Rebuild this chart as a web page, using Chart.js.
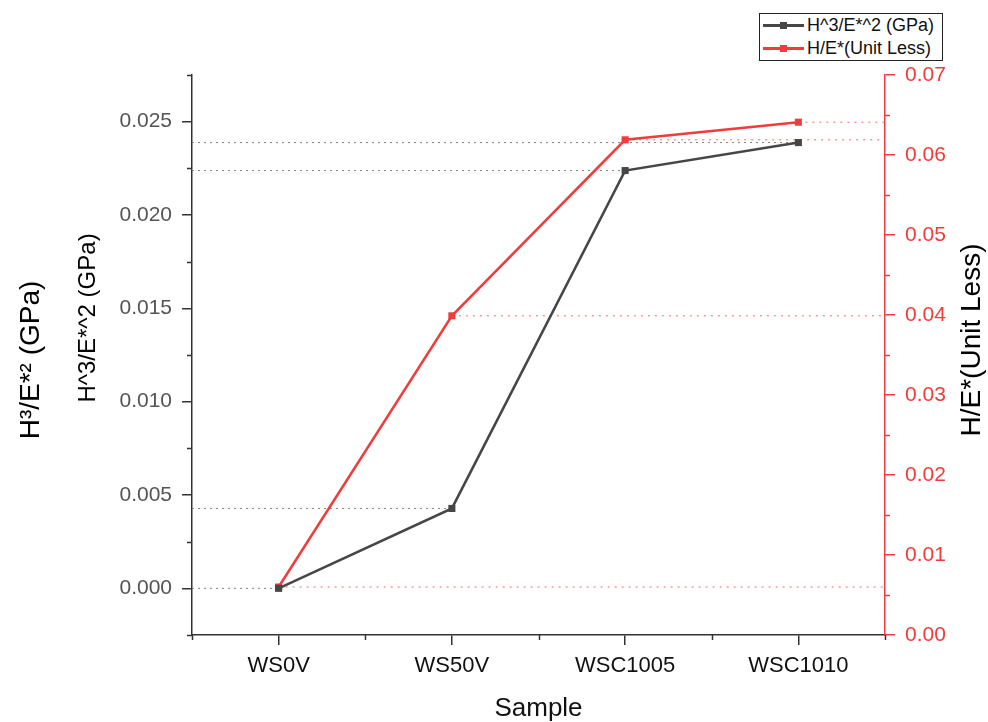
<!DOCTYPE html>
<html>
<head>
<meta charset="utf-8">
<script src="https://cdn.jsdelivr.net/npm/chart.js@4.4.0/dist/chart.umd.min.js"></script>
<style>
  body { margin: 0; background: #fff; font-family: "Liberation Sans", Arial, sans-serif; }
  #wrap { position: relative; width: 988px; height: 722px; }
  #legend { position: absolute; left: 759px; top: 13px; width: 184px; height: 48px; border: 1px solid #222;
            box-sizing: border-box; background: #fff; font-size: 18px; padding-top: 0px; }
  .row { position: relative; height: 23px; line-height: 23px; padding-left: 47px; color: #111; white-space: nowrap; }
  .row .ln { position: absolute; left: 3px; top: 10px; width: 41px; height: 3px; }
  .row .sq { position: absolute; left: 20px; top: 8px; width: 7px; height: 7px; }
</style>
</head>
<body>
<div id="wrap">
  <canvas id="chart"></canvas>
  <div id="legend"></div>
</div>
<script>
// data
const samples = ["WS0V", "WS50V", "WSC1005", "WSC1010"];
const h3e2 = [0.0000, 0.00428, 0.02238, 0.02388];   // H^3/E*^2 (GPa)
const he = [0.0060, 0.0399, 0.0619, 0.0641];         // H/E* (unit less)

const leftTicks = [0, 0.005, 0.010, 0.015, 0.020, 0.025];
const leftMinor = [-0.0025, 0.0025, 0.0075, 0.0125, 0.0175, 0.0225, 0.0275];
const rightTicks = [0, 0.01, 0.02, 0.03, 0.04, 0.05, 0.06, 0.07];
const rightMinor = [0.005, 0.015, 0.025, 0.035, 0.045, 0.055, 0.065];
const xMinor = [-0.5, 0.5, 1.5, 2.5, 3.5];

const BLACK = "#464646";
const RED = "#f03c3c";

Chart.defaults.font.family = '"Liberation Sans", Arial, sans-serif';

// legend box (top right)
const legendItems = [
    { label: "H^3/E*^2 (GPa)", color: BLACK },
    { label: "H/E*(Unit Less)", color: RED }
];
const legend = document.getElementById("legend");
legendItems.forEach(it => {
    const row = document.createElement("div");
    row.className = "row";
    row.innerHTML = `<span class="ln" style="background:${it.color}"></span><span class="sq" style="background:${it.color}"></span>${it.label}`;
    legend.appendChild(row);
});

// dotted drop lines, minor ticks and the rotated axis titles
const extras = {
    id: "extras",
    beforeDatasetsDraw(chart) {
        const { ctx, chartArea, scales } = chart;
        ctx.save();
        ctx.lineWidth = 1;
        // black: from left axis to the point
        ctx.strokeStyle = "#808080";
        ctx.setLineDash([2, 4]);
        h3e2.forEach((v, i) => {
            const y = scales.y.getPixelForValue(v);
            ctx.beginPath();
            ctx.moveTo(chartArea.left, y);
            ctx.lineTo(scales.x.getPixelForValue(i), y);
            ctx.stroke();
        });
        // red: from the point to right axis
        ctx.strokeStyle = "#f36a6a";
        ctx.setLineDash([2, 5]);
        he.forEach((v, i) => {
            const y = scales.y1.getPixelForValue(v);
            ctx.beginPath();
            ctx.moveTo(scales.x.getPixelForValue(i), y);
            ctx.lineTo(chartArea.right, y);
            ctx.stroke();
        });
        ctx.restore();
    },
    afterDraw(chart) {
        const { ctx, chartArea, scales } = chart;
        ctx.save();
        ctx.lineWidth = 1.5;
        ctx.strokeStyle = "#333";
        leftMinor.forEach(v => {
            const y = Math.round(scales.y.getPixelForValue(v)) + 0.5;
            ctx.beginPath(); ctx.moveTo(chartArea.left, y); ctx.lineTo(chartArea.left - 5, y); ctx.stroke();
        });
        xMinor.forEach(v => {
            const x = Math.round(scales.x.getPixelForValue(v)) + 0.5;
            ctx.beginPath(); ctx.moveTo(x, chartArea.bottom); ctx.lineTo(x, chartArea.bottom + 5); ctx.stroke();
        });
        ctx.strokeStyle = RED;
        rightMinor.forEach(v => {
            const y = Math.round(scales.y1.getPixelForValue(v)) + 0.5;
            ctx.beginPath(); ctx.moveTo(chartArea.right, y); ctx.lineTo(chartArea.right + 5, y); ctx.stroke();
        });

        ctx.fillStyle = "#000";
        ctx.textAlign = "center";
        ctx.textBaseline = "middle";
        const vText = (txt, x, y, size) => {
            ctx.save();
            ctx.translate(x, y);
            ctx.rotate(-Math.PI / 2);
            ctx.font = `${size}px "Liberation Sans", Arial, sans-serif`;
            ctx.fillText(txt, 0, 0);
            ctx.restore();
        };
        vText("H\u00b3/E*\u00b2 (GPa)", 31, 360, 28);
        vText("H^3/E*^2 (GPa)", 88, 318, 24);
        vText("H/E*(Unit Less)", 972, 340, 28);
        ctx.restore();
    }
};

new Chart(document.getElementById("chart"), {
    type: "line",
    data: {
        labels: samples,
        datasets: [
            {
                label: "H/E*(Unit Less)",
                data: he,
                yAxisID: "y1",
                borderColor: RED,
                backgroundColor: RED,
                borderWidth: 2.5,
                pointStyle: "rect",
                pointRadius: 5,
                pointBorderWidth: 0,
                tension: 0,
                order: 2
            },
            {
                label: "H^3/E*^2 (GPa)",
                data: h3e2,
                yAxisID: "y",
                borderColor: BLACK,
                backgroundColor: BLACK,
                borderWidth: 2.5,
                pointStyle: "rect",
                pointRadius: 5,
                pointBorderWidth: 0,
                tension: 0,
                order: 1
            }
        ]
    },
    options: {
        responsive: true,
        maintainAspectRatio: false,
        animation: false,
        layout: { padding: { top: 75, left: 0, right: 0, bottom: 0 } },
        plugins: { legend: { display: false }, tooltip: { enabled: false } },
        scales: {
            x: {
                type: "category",
                offset: true,
                grid: { display: true, drawOnChartArea: false, offset: false, tickLength: 10, color: "#333", lineWidth: 1.5 },
                border: { color: "#333", width: 1.5 },
                ticks: { color: "#111", font: { size: 22 }, padding: 8 },
                title: { display: true, text: "Sample", color: "#111", font: { size: 26, lineHeight: 1.0 }, padding: 0 },
                afterFit: s => { s.height = 87; }
            },
            y: {
                position: "left",
                min: -0.0025,
                max: 0.0275,
                afterBuildTicks: s => { s.ticks = leftTicks.map(v => ({ value: v })); },
                grid: { display: true, drawOnChartArea: false, tickLength: 10, color: "#333", lineWidth: 1.5 },
                border: { color: "#333", width: 1.5 },
                ticks: { color: "#555", font: { size: 21 }, padding: 10, callback: v => Number(v).toFixed(3) },
                afterFit: s => { s.width = 192; }
            },
            y1: {
                position: "right",
                min: 0,
                max: 0.07,
                afterBuildTicks: s => { s.ticks = rightTicks.map(v => ({ value: v })); },
                grid: { display: true, drawOnChartArea: false, tickLength: 10, color: RED, lineWidth: 1.5 },
                border: { color: RED, width: 1.5 },
                ticks: { color: RED, font: { size: 21 }, padding: 10, callback: v => Number(v).toFixed(2) },
                afterFit: s => { s.width = 103; }
            }
        }
    },
    plugins: [extras]
});
</script>
</body>
</html>
